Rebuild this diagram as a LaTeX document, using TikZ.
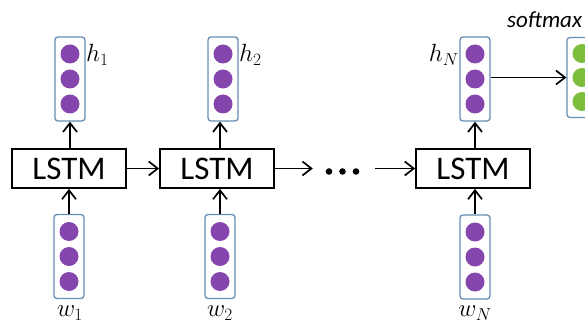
\documentclass[tikz,border=0pt]{standalone}
\usepackage{fontspec}
\setsansfont{Carlito}
\usetikzlibrary{arrows.meta}
\definecolor{vp}{RGB}{132,70,172}
\definecolor{vg}{RGB}{125,190,60}
\definecolor{vb}{RGB}{105,140,180}
\begin{document}
\begin{tikzpicture}[x=1pt,y=-1pt,
  vecbox/.style={draw=vb, line width=1.3pt, rounded corners=3pt, minimum width=30pt, minimum height=84pt, inner sep=0pt},
  dotc/.style={circle, fill=#1, minimum size=19pt, inner sep=0pt},
  lstm/.style={draw, line width=1.8pt, minimum width=114pt, minimum height=39pt, inner sep=0pt, font=\sffamily\fontsize{33}{33}\selectfont},
  arr/.style={-{Straight Barb[length=9pt,width=14pt]}, line width=1.7pt},
  lab/.style={font=\fontsize{23}{23}\selectfont, inner sep=0pt}]
\useasboundingbox (0,0) rectangle (585,323);
\clip (0,0) rectangle (585,323);
% LSTM cells
\node[lstm] (L1) at (69,168.5) {LSTM};
\node[lstm] (L2) at (217,168.5) {LSTM};
\node[lstm] (LN) at (473,168.5) {LSTM};
% vectors
\node[vecbox] (h1) at (70,79) {};
\node[vecbox] (h2) at (223,79) {};
\node[vecbox] (hN) at (475,79) {};
\node[vecbox] (w1) at (69,256.5) {};
\node[vecbox] (w2) at (220,256.5) {};
\node[vecbox] (wN) at (475,257) {};
\node[vecbox, minimum height=80pt] (sm) at (582,77.5) {};
\foreach \b in {h1,h2,hN,w1,w2,wN}{
  \node[dotc=vp] (\b c1) at ([yshift=25pt]\b.center) {};
  \node[dotc=vp] (\b c2) at (\b.center) {};
  \node[dotc=vp] (\b c3) at ([yshift=-25pt]\b.center) {};
}
\node[dotc=vg] (smc1) at ([yshift=24pt]sm.center) {};
\node[dotc=vg] (smc2) at (sm.center) {};
\node[dotc=vg] (smc3) at ([yshift=-24pt]sm.center) {};
% dots
\node[inner sep=0pt, minimum width=62pt, minimum height=8pt] (dots) at (344,168.5) {};
\fill (329,171.5) circle (3.3pt) (342.5,171.5) circle (3.3pt) (356,171.5) circle (3.3pt);
% arrows
\draw[arr] (w1.north) -- (w1.north |- L1.south);
\draw[arr] (L1.north -| h1.south) -- (h1.south);
\draw[arr] (w2.north) -- (w2.north |- L2.south);
\draw[arr] (L2.north -| w2.north) -- (h2.south -| w2.north);
\draw[arr] (wN.north) -- (wN.north |- LN.south);
\draw[arr] (LN.north -| hN.south) -- (hN.south);
\draw[arr] (L1.east) -- (L2.west);
\draw[arr] (L2.east) -- (dots.west);
\draw[arr] (dots.east) -- (LN.west);
\draw[arr] (hN.east |- sm.west) -- (sm.west);
% labels
\node[lab, anchor=west] (lh1) at (86,55) {$h_1$};
\node[lab, anchor=west] (lh2) at (239,55) {$h_2$};
\node[lab, anchor=east] (lhN) at (459,55) {$h_N$};
\node[lab] (lw1) at (70,313) {$w_1$};
\node[lab] (lw2) at (220,313) {$w_2$};
\node[lab] (lwN) at (475,313) {$w_N$};
\node[anchor=base west, inner sep=0pt, font=\sffamily\itshape\fontsize{23}{23}\selectfont] (lsm) at (507,28) {softmax};
\end{tikzpicture}
\end{document}
